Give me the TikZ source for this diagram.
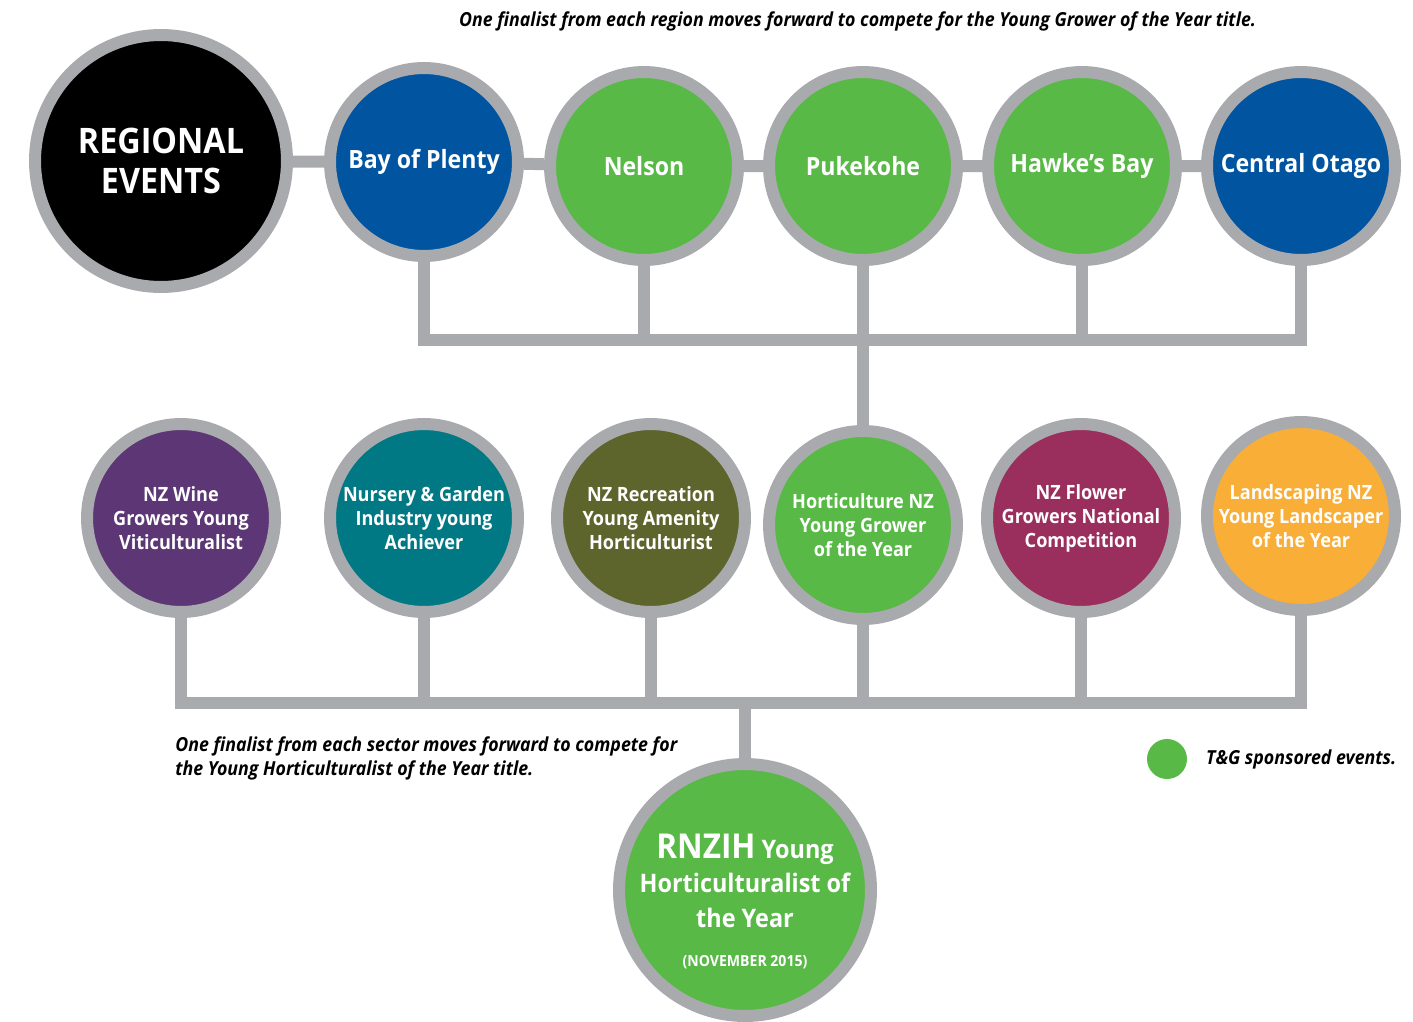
\documentclass[tikz,border=0pt]{standalone}
\usepackage{fontspec}
\setmainfont{Open Sans}[FakeStretch=0.92]
\usetikzlibrary{backgrounds,positioning}
\definecolor{ringGrey}{HTML}{A9AAAD}
\definecolor{hortBlue}{HTML}{0054A0}
\definecolor{hortGreen}{HTML}{59B947}
\definecolor{hortPurple}{HTML}{5D3675}
\definecolor{hortTeal}{HTML}{007985}
\definecolor{hortOlive}{HTML}{5E652C}
\definecolor{hortMaroon}{HTML}{9A2E5C}
\definecolor{hortOrange}{HTML}{F8AE37}

\begin{document}
\begin{tikzpicture}[x=0.02cm, y=-0.02cm,
    ring/.style={circle, draw=ringGrey, line width=0.24cm, text=white, align=center,
        font=\bfseries, inner sep=0pt},
    bigring/.style={ring, minimum size=5.04cm},
    regring/.style={ring, minimum size=3.76cm, font=\bfseries\fontsize{14.3}{16}\selectfont},
    secring/.style={ring, minimum size=3.76cm, font=\bfseries\fontsize{11.2}{13.6}\selectfont},
    link/.style={draw=ringGrey, line width=0.24cm},
    caption/.style={font=\bfseries\itshape\fontsize{11}{13.6}\selectfont, align=left}]
    \useasboundingbox (0,0) rectangle (1413,1021);
    % regional row
    \node[bigring, fill=black, font=\bfseries\fontsize{20}{22.8}\selectfont] (reg) at (161,161) {REGIONAL\\EVENTS};
    \node[regring, fill=hortBlue] (bop) at (424,162) {Bay of Plenty};
    \node[regring, fill=hortGreen] (nel) at (644,166) {Nelson};
    \node[regring, fill=hortGreen] (puk) at (863,166) {Pukekohe};
    \node[regring, fill=hortGreen] (hwb) at (1082,166) {Hawke’s Bay};
    \node[regring, fill=hortBlue] (cot) at (1301,166) {Central Otago};
    % sector row
    \node[secring, fill=hortPurple] (wine) at (181,518) {NZ Wine\\Growers Young\\Viticulturalist};
    \node[secring, fill=hortTeal] (nurs) at (424,518) {Nursery \& Garden\\Industry young\\Achiever};
    \node[secring, fill=hortOlive] (recr) at (651,518) {NZ Recreation\\Young Amenity\\Horticulturist};
    \node[secring, fill=hortGreen] (hnz) at (863,525) {Horticulture NZ\\Young Grower\\of the Year};
    \node[secring, fill=hortMaroon] (flow) at (1081,518) {NZ Flower\\Growers National\\Competition};
    \node[secring, fill=hortOrange] (land) at (1301,516) {Landscaping NZ\\Young Landscaper\\of the Year};
    % final
    \node[bigring, fill=hortGreen, inner sep=-0.3cm, font=\bfseries\fontsize{14.5}{19.5}\selectfont] (rnzih) at (745,890)
        {\rule{0pt}{27pt}{\fontsize{19.5}{19.5}\selectfont RNZIH} Young\\
         Horticulturalist of\\
         the Year\\[3pt]
         {\fontsize{8.7}{10}\selectfont (NOVEMBER 2015)}};
    \coordinate (topbar) at (863,340);
    \coordinate (botbar) at (745,703);
    \begin{scope}[on background layer]
        \draw[link] (reg) -- (bop) -- (nel) -- (puk) -- (hwb) -- (cot);
        \draw[link] (bop) |- (topbar);
        \draw[link] (cot) |- (topbar);
        \draw[link] (nel) -- (nel |- topbar);
        \draw[link] (puk) -- (hnz);
        \draw[link] (hwb) -- (hwb |- topbar);
        \draw[link] (wine) |- (botbar);
        \draw[link] (land) |- (botbar);
        \draw[link] (nurs) -- (nurs |- botbar);
        \draw[link] (recr) -- (recr |- botbar);
        \draw[link] (hnz) -- (hnz |- botbar);
        \draw[link] (flow) -- (flow |- botbar);
        \draw[link] (botbar) -- (rnzih);
    \end{scope}
    % captions and legend
    \node[caption, anchor=west] (topnote) at (453,21) {One finalist from each region moves forward to compete for the Young Grower of the Year title.};
    \node[caption, anchor=north west, inner sep=0pt] (botnote) at (175,736) {One finalist from each sector moves forward to compete for\\the Young Horticulturalist of the Year title.};
    \node[circle, fill=hortGreen, minimum size=0.8cm, inner sep=0pt] (legend) at (1167,759) {};
    \node[caption, right=0.25cm of legend] (legendtext) {T\&G sponsored events.};
\end{tikzpicture}
\end{document}
